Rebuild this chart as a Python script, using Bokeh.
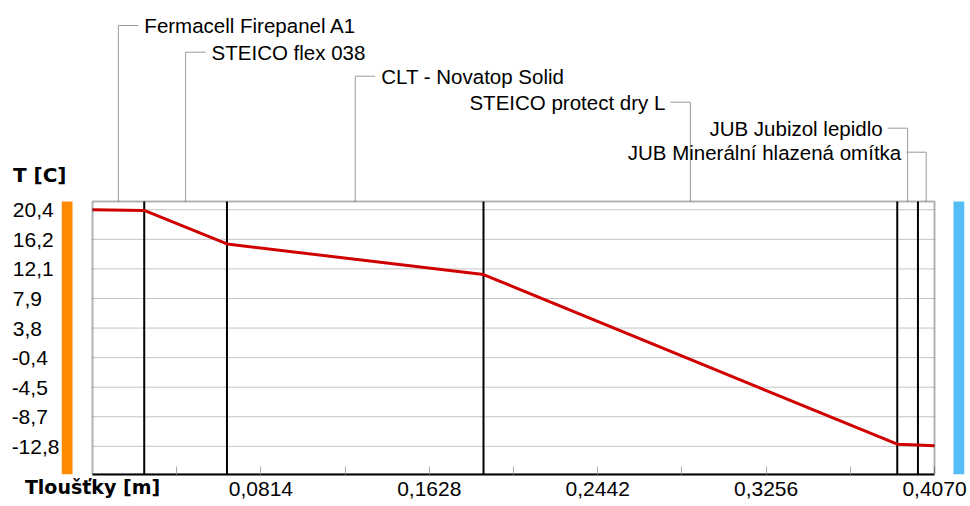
from bokeh.plotting import figure
from bokeh.models import Range1d, FixedTicker, LinearAxis, BoxAnnotation
from bokeh.core.properties import value
from bokeh.embed import file_html
from bokeh.resources import INLINE

# ---------------- data ----------------
layer_names = ["Fermacell Firepanel A1", "STEICO flex 038", "CLT - Novatop Solid",
               "STEICO protect dry L", "JUB Jubizol lepidlo", "JUB Minerální hlazená omítka"]
layer_thickness = [0.025, 0.040, 0.124, 0.200, 0.010, 0.008]
interface_T = [20.4, 20.3, 15.6, 11.3, -12.5, -12.6, -12.7]

x_ticks = [0.0814, 0.1628, 0.2442, 0.3256, 0.4070]
x_tick_labels = ["0,0814", "0,1628", "0,2442", "0,3256", "0,4070"]
x_minor_ticks = [0.0407, 0.1221, 0.2035, 0.2849, 0.3663]
y_ticks = [20.4, 16.25, 12.1, 7.95, 3.8, -0.35, -4.5, -8.65, -12.8]
y_tick_labels = ["20,4", "16,2", "12,1", "7,9", "3,8", "-0,4", "-4,5", "-8,7", "-12,8"]
x_title = "Tloušťky [m]"
y_title = "T [C]"

# ---------------- derived ----------------
interface_x = [0.0]
for t in layer_thickness:
    interface_x.append(round(interface_x[-1] + t, 6))
layer_mid = [(a + b) / 2 for a, b in zip(interface_x[:-1], interface_x[1:])]


def left_pad(label):
    # pad with figure / punctuation spaces so right-aligned labels line up on the left
    digits = sum(ch.isdigit() for ch in label)
    need_digits = 3 - digits
    need_punct = 0 if label.startswith("-") else 1
    return label + "\u2007" * need_digits + "\u2008" * need_punct


# ---------------- geometry / style ----------------
W, H = 970, 506
ML, MR, MB = 61, 6, 32             # borders (px)
FW, FH = W - ML - MR, H - MB       # frame size (px)
BOX_TOP = 201                      # box top measured from frame top (px)
BOX_W, BOX_H = 842, FH - BOX_TOP   # plot box inside the frame (px)
GAP_L, GAP_R = 31, 30              # frame edge -> box edge (px)
BAR = 11                           # colour bar width (px)
FONT = "Liberation Sans"

x_lo, x_hi = 0.0, interface_x[-1]
ppm = BOX_W / (x_hi - x_lo)        # px per metre
x_start, x_end = x_lo - GAP_L / ppm, x_hi + GAP_R / ppm
y_lo, y_box_top = -16.75, 21.56
y_hi = y_lo + (y_box_top - y_lo) * FH / BOX_H

p = figure(width=W, height=H, x_range=Range1d(x_start, x_end), y_range=Range1d(y_lo, y_hi),
           output_backend="svg", toolbar_location=None,
           min_border_left=ML, min_border_right=MR, min_border_top=0, min_border_bottom=MB,
           background_fill_color="white", border_fill_color="white")
p.extra_y_ranges = {"px": Range1d(0, FH)}
p.outline_line_color = None
p.xgrid.visible = False
p.ygrid.visible = False

# y axis (numbers)
ya = p.yaxis[0]
ya.ticker = FixedTicker(ticks=y_ticks)
ya.major_label_overrides = {t: left_pad(s) for t, s in zip(y_ticks, y_tick_labels)}
ya.major_tick_in = ya.major_tick_out = ya.minor_tick_in = ya.minor_tick_out = 0
ya.axis_line_color = None
ya.major_label_standoff = 2
ya.major_label_text_font = FONT
ya.major_label_text_font_size = "21px"
ya.major_label_text_color = "black"

# y axis title (bold) as a second axis
yt = LinearAxis(y_range_name="px", ticker=FixedTicker(ticks=[BOX_H + 27]),
                major_label_overrides={BOX_H + 27: y_title})
yt.major_tick_in = yt.major_tick_out = yt.minor_tick_in = yt.minor_tick_out = 0
yt.axis_line_color = None
yt.major_label_standoff = -58
yt.major_label_text_font = "DejaVu Sans"
yt.major_label_text_font_style = "bold"
yt.major_label_text_font_size = "20px"
yt.major_label_text_color = "black"
p.add_layout(yt, "left")

# x axis (numbers)
xa = p.xaxis[0]
xa.ticker = FixedTicker(ticks=x_ticks, minor_ticks=x_minor_ticks)
xa.major_label_overrides = dict(zip(x_ticks, x_tick_labels))
xa.bounds = (x_lo, x_hi)
xa.axis_line_color = "black"
xa.axis_line_width = 2
xa.major_tick_in = 8
xa.major_tick_out = 0
xa.minor_tick_in = 8
xa.minor_tick_out = 0
xa.major_tick_line_color = "#a8a8a8"
xa.minor_tick_line_color = "#a8a8a8"
xa.major_label_standoff = 7
xa.major_label_text_font = FONT
xa.major_label_text_font_size = "21px"
xa.major_label_text_color = "black"

# x axis title (bold) as a second axis
xt = LinearAxis(ticker=FixedTicker(ticks=[x_lo]), major_label_overrides={x_lo: x_title})
xt.major_tick_in = xt.major_tick_out = xt.minor_tick_in = xt.minor_tick_out = 0
xt.axis_line_color = None
xt.major_label_standoff = -23
xt.major_label_text_font = "DejaVu Sans"
xt.major_label_text_font_style = "bold"
xt.major_label_text_font_size = "19px"
xt.major_label_text_color = "black"
p.add_layout(xt, "below")

# horizontal grid lines inside the box
p.segment(x0=[x_lo] * len(y_ticks), y0=y_ticks, x1=[x_hi] * len(y_ticks), y1=y_ticks,
          line_color="#c4c4c4", line_width=1, level="underlay")

# inside / outside colour bars
p.quad(left=[x_start], right=[x_start + BAR / ppm], bottom=[y_lo], top=[y_box_top],
       fill_color="#FF8A00", line_color=None)
p.quad(left=[x_end - BAR / ppm], right=[x_end], bottom=[y_lo], top=[y_box_top],
       fill_color="#55BDF5", line_color=None)

# layer boundaries
inner = interface_x[1:-1]
p.segment(x0=inner, y0=[y_lo] * len(inner), x1=inner, y1=[y_box_top] * len(inner),
          line_color="black", line_width=2)

# temperature profile
p.line(interface_x, interface_T, line_color="#D00000", line_width=3)

# plot box
p.add_layout(BoxAnnotation(left=x_lo, right=x_hi, bottom=y_lo, top=y_box_top,
                           fill_alpha=0, line_color="black", line_width=2))

# layer name labels with leader lines
levels = [176, 149.3, 125.3, 99.3, 73.3, 49.3]
sides = [1, 1, 1, -1, -1, -1]
LEAD = "#9c9c9c"
lev_y = [BOX_H + lv for lv in levels]
p.segment(x0=layer_mid, y0=[BOX_H] * len(layer_mid), x1=layer_mid, y1=lev_y,
          y_range_name="px", line_color=LEAD, line_width=1)
p.segment(x0=layer_mid, y0=lev_y, x1=[m + s * 20 / ppm for m, s in zip(layer_mid, sides)], y1=lev_y,
          y_range_name="px", line_color=LEAD, line_width=1)
left_idx = [i for i, s in enumerate(sides) if s > 0]
right_idx = [i for i, s in enumerate(sides) if s < 0]
for idx, off, align in ((left_idx, 26, "left"), (right_idx, -25, "right")):
    p.text(x=[layer_mid[i] for i in idx], y=[lev_y[i] for i in idx], text=[layer_names[i] for i in idx],
           y_range_name="px", x_offset=off, text_align=align, text_baseline="middle",
           text_font=value(FONT), text_font_size="20.5px", text_color="black")

open("out.html", "w", encoding="utf-8").write(file_html(p, INLINE))
